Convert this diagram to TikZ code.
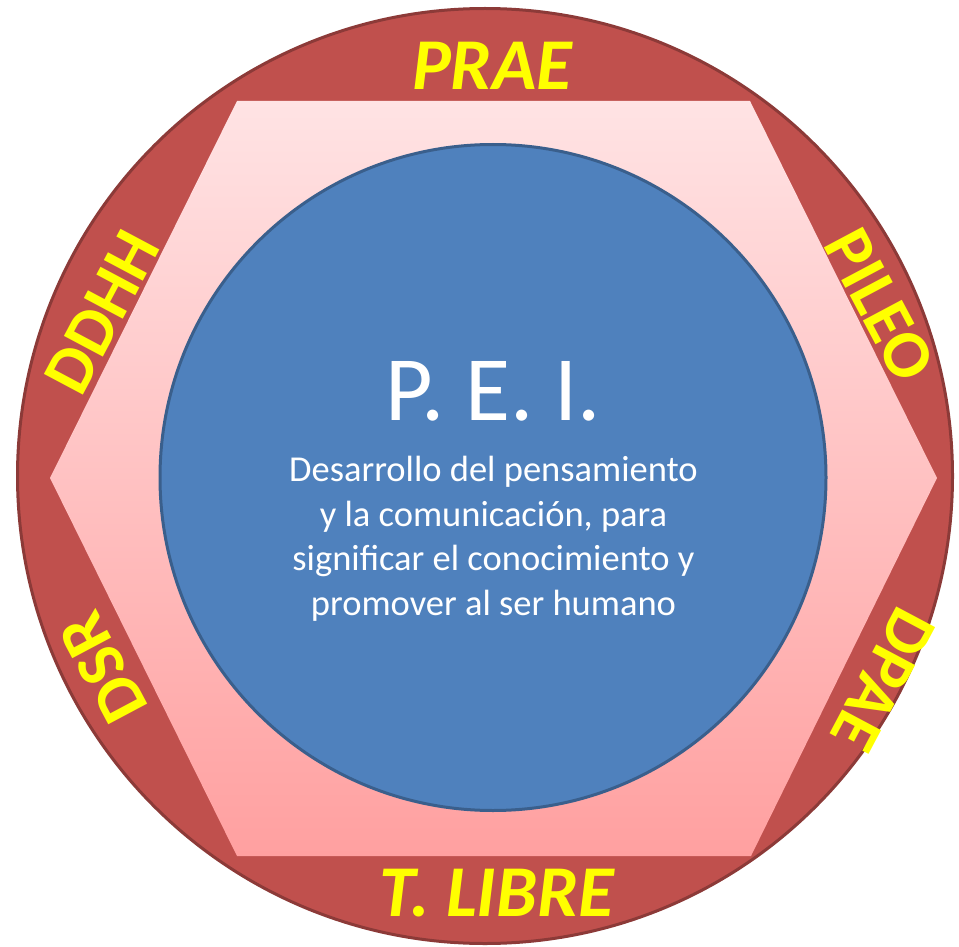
\documentclass[tikz,border=0pt]{standalone}
\usepackage{fontspec}
\setmainfont{Carlito}
\usepackage{tikz}
\usetikzlibrary{positioning}
\definecolor{RingRed}{HTML}{C0504D}
\definecolor{RingEdge}{HTML}{8C3A38}
\definecolor{HexTop}{HTML}{FFE3E4}
\definecolor{HexBot}{HTML}{FFA0A0}
\definecolor{CoreBlue}{HTML}{4F81BD}
\definecolor{CoreEdge}{HTML}{3A5F8C}
\definecolor{LabYellow}{HTML}{FFFF00}

\begin{document}
\begin{tikzpicture}[x=1pt,y=-1pt,
  lab/.style={text=LabYellow, inner sep=0pt,
              font=\fontsize{68}{68}\selectfont\bfseries},
  labit/.style={lab, font=\fontsize{73}{73}\selectfont\bfseries\itshape},
  core/.style={text=white, align=center, inner sep=0pt}]
  \useasboundingbox (0,0) rectangle (959,947);
  % outer ring, hexagon, core
  \draw[RingEdge, line width=3pt, fill=RingRed] (485,476) circle[radius=467.5];
  \shade[top color=HexTop, bottom color=HexBot]
    (237,101) -- (750,101) -- (937,478) -- (751,856) -- (237,856) -- (50,478) -- cycle;
  \draw[CoreEdge, line width=3pt, fill=CoreBlue] (493,477.5) circle[radius=333];
  % centre text
  \node[core, font=\fontsize{92}{92}\selectfont] (pei) at (493.5,391) {P. E. I.};
  \node[core, font=\fontsize{36.5}{44.5}\selectfont, anchor=base] (lema) at (493.5,615)
    {Desarrollo del pensamiento\\ y la comunicación, para\\ significar el conocimiento y\\ promover al ser humano};
  % ring labels
  \node[labit] (prae)  at (492,66)  {PRAE};
  \node[labit] (libre) at (497,893) {T. LIBRE};
  \node[lab, rotate=62]   (ddhh)  at (102,312) {DDHH};
  \node[lab, rotate=-62]  (pileo) at (880,305) {PILEO};
  \node[lab, rotate=118]  (dsr)   at (103,668) {DSR};
  \node[lab, rotate=-118] (dpae)  at (883,680) {DPAE};
\end{tikzpicture}
\end{document}
